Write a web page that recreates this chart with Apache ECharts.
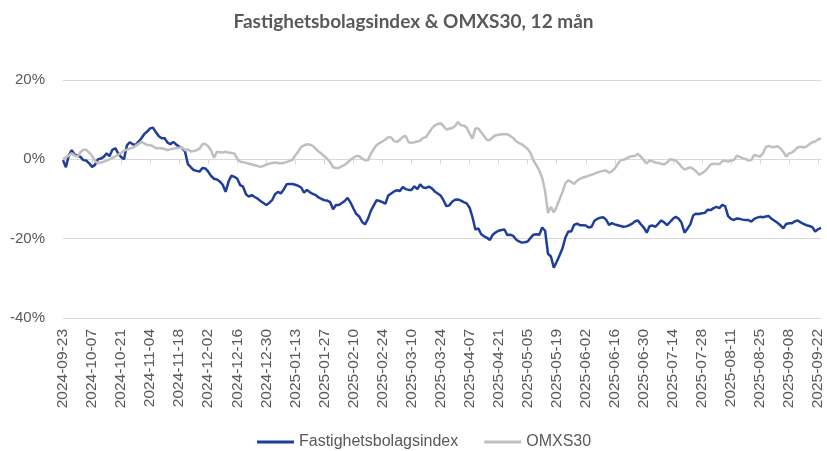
<!DOCTYPE html>
<html>
<head>
<meta charset="utf-8">
<script src="https://cdn.jsdelivr.net/npm/echarts@6/dist/echarts.min.js"></script>
<style>
  html, body { margin: 0; padding: 0; background: #fff; }
  #chart { width: 827px; height: 451px; }
</style>
</head>
<body>
<div id="chart"></div>
<script>
// handelsdagar från 2024-09-23, en etikett varannan vecka
const startDate = '2024-09-23';
const dayCount = 262;

const seriesNames = ['Fastighetsbolagsindex', 'OMXS30'];

// avkastning i %
const fastighet = [
  -0.2, -2.0, 1.0, 2.3, 1.2, 1.0, 0.6, -0.2, -0.3, -1.0,
  -1.9, -1.4, 0.0, 0.2, 0.6, 1.5, 0.8, 2.4, 2.8, 1.5,
  0.6, 0.0, 3.5, 4.3, 3.8, 3.6, 4.5, 5.3, 6.4, 7.0,
  7.8, 8.0, 6.8, 5.8, 5.3, 5.3, 4.2, 3.8, 4.4, 3.7,
  3.2, 2.8, 2.0, -1.2, -2.0, -2.7, -2.9, -3.1, -2.2, -2.3,
  -3.1, -4.2, -4.9, -5.1, -5.6, -6.4, -8.2, -5.6, -4.1, -4.4,
  -4.9, -6.5, -6.9, -8.8, -9.4, -9.0, -9.5, -9.9, -10.5, -11.0,
  -11.5, -11.0, -10.3, -8.8, -8.2, -8.6, -7.6, -6.3, -6.2, -6.2,
  -6.4, -6.7, -7.1, -8.4, -7.7, -8.3, -8.7, -9.0, -9.6, -10.0,
  -10.3, -10.4, -10.8, -12.6, -11.5, -11.5, -11.0, -10.5, -9.7, -10.9,
  -12.4, -13.8, -14.4, -15.8, -16.4, -15.0, -13.0, -11.6, -10.3, -10.5,
  -10.8, -11.2, -9.1, -8.6, -8.1, -7.8, -8.0, -7.0, -7.5, -7.7,
  -7.7, -6.8, -7.5, -6.3, -7.1, -7.2, -6.9, -7.3, -8.1, -8.6,
  -9.1, -10.3, -11.8, -11.6, -10.7, -10.2, -10.1, -10.4, -10.8, -11.1,
  -12.2, -14.6, -17.7, -17.4, -18.9, -19.4, -19.8, -20.3, -19.0, -18.4,
  -18.0, -17.8, -17.7, -19.1, -19.0, -19.3, -20.2, -20.7, -21.0, -20.9,
  -20.7, -19.8, -19.0, -18.9, -19.0, -17.2, -18.0, -23.8, -24.5, -27.3,
  -25.8, -24.2, -22.4, -19.7, -18.2, -18.2, -16.5, -16.2, -16.6, -16.6,
  -16.7, -17.2, -17.0, -15.5, -15.0, -14.7, -14.6, -15.2, -16.5, -16.1,
  -16.4, -16.6, -16.8, -17.0, -16.9, -16.6, -16.2, -15.6, -15.4, -16.4,
  -17.2, -18.5, -16.8, -16.7, -17.0, -16.2, -15.4, -15.9, -16.6, -15.8,
  -15.0, -14.5, -15.0, -16.0, -18.5, -17.5, -16.4, -14.1, -13.7, -13.8,
  -13.6, -13.5, -12.7, -12.8, -12.3, -12.0, -12.3, -11.5, -11.8, -14.3,
  -15.0, -15.3, -14.9, -15.0, -15.2, -15.3, -15.3, -15.7, -15.0, -14.7,
  -14.5, -14.6, -14.4, -14.3, -15.0, -15.5, -16.0, -16.6, -17.4, -16.3,
  -16.1, -16.1, -15.6, -15.4, -15.9, -16.3, -16.6, -16.8, -17.1, -18.2,
  -17.6, -17.3
];

const omxs30 = [
  0.0, 0.5, 1.0, 1.5, 1.0, 0.7, 1.8, 2.4, 2.4, 1.7,
  0.9, -0.4, -1.0, -0.8, -0.6, -0.3, 0.0, 0.4, 0.7, 1.2,
  1.6, 2.2, 2.4, 2.7, 2.9, 3.4, 3.9, 4.4, 4.0, 3.6,
  3.6, 3.3, 2.8, 2.8, 2.8, 2.6, 2.3, 2.5, 2.7, 2.8,
  2.9, 3.0, 2.3, 2.5, 2.0, 2.1, 2.3, 2.7, 3.8, 3.9,
  3.3, 2.2, 0.4, 1.9, 1.8, 1.7, 1.9, 1.7, 1.6, 1.5,
  0.1, -0.6, -0.7, -0.9, -1.1, -1.3, -1.5, -1.7, -1.9, -1.7,
  -1.3, -1.1, -0.9, -0.8, -0.9, -1.0, -0.9, -0.7, -0.4, -0.1,
  1.0, 2.0, 3.1, 3.5, 3.8, 3.7, 3.4, 2.7, 2.0, 1.4,
  0.8, 0.1, -0.7, -2.0, -2.2, -2.2, -1.7, -1.4, -0.8, -0.1,
  0.4, 0.9, 0.8, 0.2, -0.2, -0.2, 1.4, 2.6, 3.6, 4.1,
  4.5, 5.0, 5.6, 5.5, 4.6, 4.4, 4.9, 5.7, 5.9, 4.3,
  4.2, 4.3, 4.5, 4.7, 5.4, 5.6, 6.7, 7.8, 8.5, 8.9,
  9.1, 8.4, 7.5, 7.7, 7.9, 8.4, 9.4, 8.6, 8.5, 8.0,
  6.5, 5.2, 7.8, 7.8, 6.8, 5.8, 4.9, 4.9, 5.6, 6.1,
  6.2, 6.3, 6.3, 6.3, 5.9, 5.4, 4.6, 4.1, 3.8, 3.2,
  2.6, 1.6, -0.3, -1.5, -2.8, -4.7, -8.0, -13.5, -12.0, -13.4,
  -11.9, -10.0, -8.2, -6.0, -5.3, -5.7, -6.2, -5.4, -4.9, -4.6,
  -4.4, -4.1, -3.9, -3.6, -3.3, -3.1, -2.9, -2.8, -3.4, -3.0,
  -2.3, -1.2, -0.2, -0.1, 0.2, 0.6, 0.8, 0.9, 1.4, 0.6,
  -0.2, -1.0, -0.3, -0.5, -0.8, -0.9, -1.1, -1.3, -0.8, 0.0,
  -0.1, -0.3, -1.0, -1.9, -2.6, -2.3, -2.0, -2.4, -3.0, -3.9,
  -3.5, -3.0, -2.2, -1.3, -1.1, -1.2, -1.2, -0.5, -0.3, -0.6,
  -0.3, -0.2, 0.9, 0.6, 0.3, 0.1, -0.3, -0.2, 1.1, 0.9,
  0.7, 1.5, 3.1, 3.4, 3.1, 3.1, 3.3, 2.8, 1.9, 0.7,
  1.5, 1.7, 2.3, 3.0, 3.2, 3.0, 3.2, 3.8, 4.3, 4.5,
  5.0, 5.3
];

const yTicks = { min: -40, max: 20, interval: 20 };

function pad(n) { return n < 10 ? '0' + n : '' + n; }

// vardagar (mån-fre)
const dates = [];
{
  const d = new Date(startDate + 'T12:00:00Z');
  while (dates.length < dayCount) {
    const wd = d.getUTCDay();
    if (wd !== 0 && wd !== 6) {
      dates.push(d.getUTCFullYear() + '-' + pad(d.getUTCMonth() + 1) + '-' + pad(d.getUTCDate()));
    }
    d.setUTCDate(d.getUTCDate() + 1);
  }
}

const textColor = '#595959';
const gridColor = '#d9d9d9';
const font = 'Liberation Sans, Arial, sans-serif';

const chart = echarts.init(document.getElementById('chart'));
chart.setOption({
  animation: false,
  title: {
    text: 'Fastighetsbolagsindex & OMXS30, 12 mån',
    left: 'center',
    top: 7,
    textStyle: {
      color: textColor,
      fontFamily: 'Lato, sans-serif',
      fontWeight: 'bold',
      fontSize: 19,
    },
  },
  legend: {
    top: 429,
    left: 252,
    icon: 'rect',
    itemWidth: 37,
    itemHeight: 3,
    itemGap: 26,
    textStyle: { color: textColor, fontFamily: font, fontSize: 16 },
    data: seriesNames,
  },
  grid: {
    left: 63,
    right: 6,
    top: 80,
    height: 238,
  },
  xAxis: [
    {
      // linjen vid 0 med streck
      type: 'category',
      data: dates,
      boundaryGap: false,
      position: 'bottom',
      axisLine: { onZero: true, lineStyle: { color: gridColor, width: 1 } },
      axisTick: { show: true, interval: 9, length: 5, lineStyle: { color: gridColor } },
      axisLabel: { show: false },
      splitLine: { show: false },
    },
    {
      // datumetiketter nedtill
      type: 'category',
      data: dates,
      boundaryGap: false,
      position: 'bottom',
      axisLine: { show: false, onZero: false },
      axisTick: { show: false },
      axisLabel: {
        interval: 9,
        rotate: 90,
        margin: 11,
        color: textColor,
        fontFamily: font,
        fontSize: 15.5,
      },
      splitLine: { show: false },
    },
  ],
  yAxis: {
    type: 'value',
    min: yTicks.min,
    max: yTicks.max,
    interval: yTicks.interval,
    axisLine: { show: false },
    axisTick: { show: false },
    axisLabel: {
      formatter: v => v + '%',
      color: textColor,
      fontFamily: font,
      fontSize: 15,
      margin: 18,
    },
    splitLine: { lineStyle: { color: gridColor, width: 1 } },
  },
  series: [
    {
      name: seriesNames[0],
      type: 'line',
      data: fastighet,
      xAxisIndex: 0,
      showSymbol: false,
      symbol: 'none',
      color: '#1f3e9a',
      lineStyle: { width: 2.5 },
    },
    {
      name: seriesNames[1],
      type: 'line',
      data: omxs30,
      xAxisIndex: 0,
      showSymbol: false,
      symbol: 'none',
      color: '#bfbfbf',
      lineStyle: { width: 2.5 },
    },
  ],
});
</script>
</body>
</html>
